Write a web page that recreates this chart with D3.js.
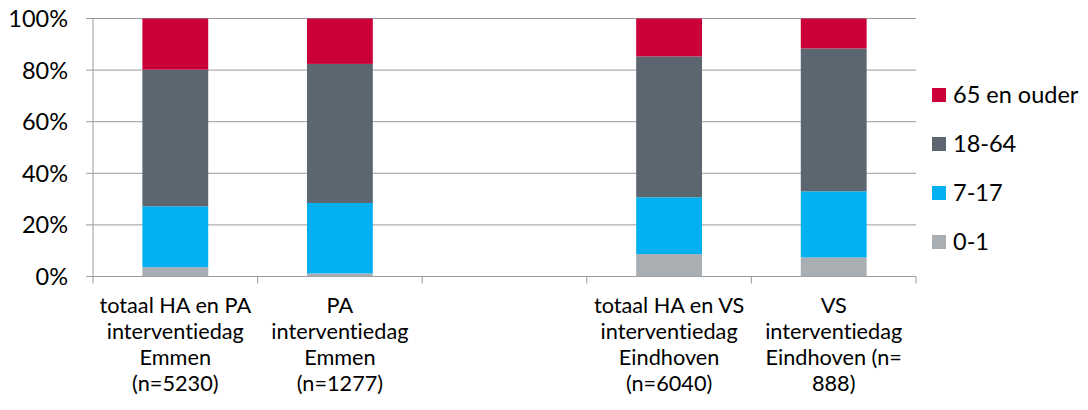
<!DOCTYPE html>
<html><head><meta charset="utf-8">
<script src="https://cdn.jsdelivr.net/npm/d3@7"></script>
<style>body{margin:0;background:#fff}svg text{font-family:Lato,"Open Sans",sans-serif;fill:#000;font-variant-ligatures:none;font-feature-settings:"liga" 0,"clig" 0}</style>
</head><body><svg id="c" width="1088" height="410"></svg>
<script>
const categories = [
  ["totaal HA en PA","interventiedag","Emmen","(n=5230)"],
  ["PA","interventiedag","Emmen","(n=1277)"],
  [],
  ["totaal HA en VS","interventiedag","Eindhoven","(n=6040)"],
  ["VS","interventiedag","Eindhoven (n=","888)"]
];
const seriesNames = ["0-1","7-17","18-64","65 en ouder"];
const s0_1   = [3.6, 1.2, 0, 8.7, 7.4];
const s7_17  = [23.6, 27.3, 0, 22.0, 25.6];
const s18_64 = [53.0, 53.9, 0, 54.6, 55.4];
const s65    = [19.8, 17.6, 0, 14.7, 11.6];
const hasBar = [true, true, false, true, true];
const yTicks = [0, 0.2, 0.4, 0.6, 0.8, 1.0];
const colors = ["#A9AEB3","#00B0F0","#5B6670","#CC0039"];

const svg = d3.select("#c");
const L = 93, R = 916, T = 18.5, B = 276.5;
const x = d3.scaleBand().domain(d3.range(categories.length)).range([L, R]).paddingInner(0.6).paddingOuter(0.3);
const y = d3.scaleLinear().domain([0, 1]).range([B, T]);
const grid = "#9a9a9a";

svg.append("g").selectAll("line").data(yTicks).join("line")
  .attr("x1", L - 7).attr("x2", R).attr("y1", d => y(d)).attr("y2", d => y(d))
  .attr("stroke", grid).attr("stroke-width", 1);
svg.append("line").attr("x1", L).attr("x2", L).attr("y1", T).attr("y2", B).attr("stroke", grid);
svg.append("g").selectAll("text").data(yTicks).join("text")
  .attr("x", L - 25).attr("y", d => y(d)).attr("dy", "0.36em").attr("text-anchor", "end")
  .attr("font-size", 23.5).text(d => Math.round(d * 100) + "%");

const step = x.step();
const bounds = d3.range(categories.length + 1).map(i => L + i * step);
svg.append("g").selectAll("line").data(bounds).join("line")
  .attr("x1", d => d).attr("x2", d => d).attr("y1", B).attr("y2", B + 7).attr("stroke", grid);

const rows = categories.map((c, i) => ({i, "0-1": s0_1[i]/100, "7-17": s7_17[i]/100, "18-64": s18_64[i]/100, "65 en ouder": s65[i]/100}))
  .filter(r => hasBar[r.i]);
const stack = d3.stack().keys(seriesNames)(rows);
svg.append("g").selectAll("g").data(stack).join("g").attr("fill", (d, k) => colors[k])
  .selectAll("rect").data(d => d).join("rect")
  .attr("x", d => x(d.data.i)).attr("width", x.bandwidth())
  .attr("y", d => y(Math.min(d[1], 1))).attr("height", d => y(d[0]) - y(Math.min(d[1], 1)));

const lab = svg.append("g");
categories.forEach((lines, i) => {
  const t = lab.append("text").attr("text-anchor", "middle").attr("font-size", 21.7);
  lines.forEach((ln, j) => t.append("tspan").attr("x", x(i) + x.bandwidth() / 2).attr("y", 313 + j * 26).text(ln));
});

const legItems = seriesNames.map((n, k) => ({n, c: colors[k]})).reverse();
const lg = svg.append("g").selectAll("g").data(legItems).join("g")
  .attr("transform", (d, k) => `translate(932,${95 + k * 49})`);
lg.append("rect").attr("x", 0).attr("y", -7).attr("width", 14).attr("height", 14).attr("fill", d => d.c);
lg.append("text").attr("x", 21).attr("dy", "0.36em").attr("font-size", 23.5).text(d => d.n);
</script></body></html>
